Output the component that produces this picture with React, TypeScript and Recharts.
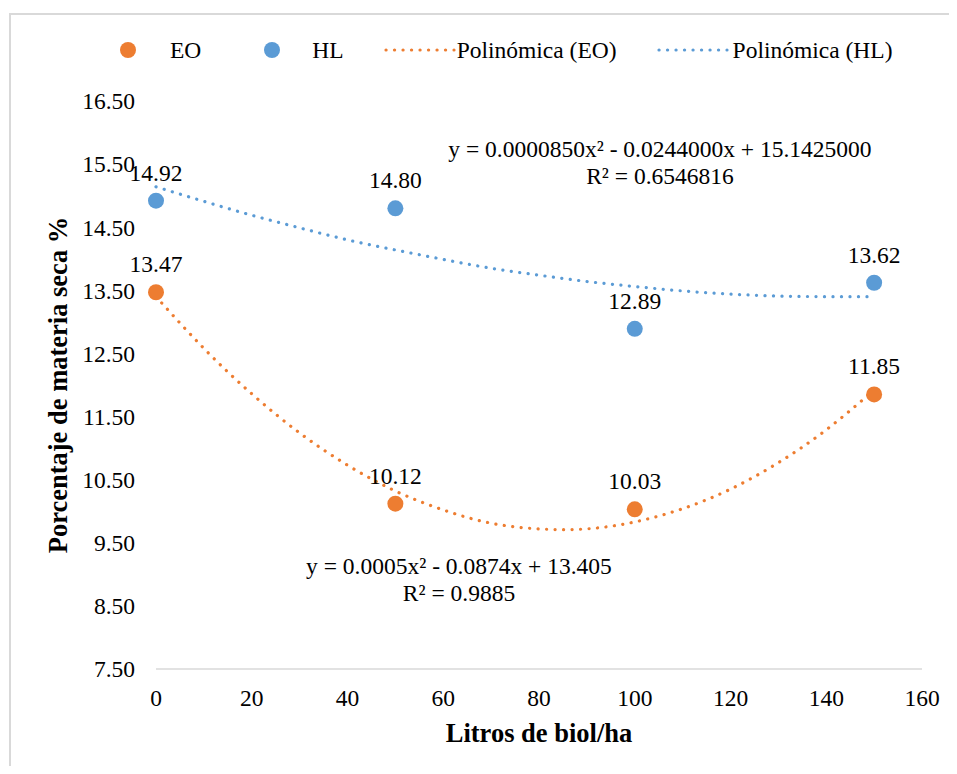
import React from 'react';
import { ComposedChart, Scatter, Line, XAxis, YAxis, ZAxis, LabelList } from 'recharts';

// biol doses (L/ha)
const doses = [0, 50, 100, 150];
const eoValues = [13.47, 10.12, 10.03, 11.85];
const hlValues = [14.92, 14.8, 12.89, 13.62];

// polynomial trendlines
const trendX = [0, 10, 20, 30, 40, 50, 60, 70, 80, 90, 100, 110, 120, 130, 140, 150];
const eoTrend = [13.4, 12.58, 11.86, 11.24, 10.73, 10.32, 10.02, 9.81, 9.72, 9.72, 9.83, 10.04, 10.35, 10.77, 11.29, 11.92];
const hlTrend = [15.14, 14.91, 14.69, 14.49, 14.3, 14.14, 13.99, 13.85, 13.74, 13.64, 13.56, 13.49, 13.44, 13.41, 13.4, 13.4];

const xTicks = [0, 20, 40, 60, 80, 100, 120, 140, 160];
const yTicks = [7.5, 8.5, 9.5, 10.5, 11.5, 12.5, 13.5, 14.5, 15.5, 16.5];

const eoEquation = ['y = 0.0005x² - 0.0874x + 13.405', 'R² = 0.9885'];
const hlEquation = ['y = 0.0000850x² - 0.0244000x + 15.1425000', 'R² = 0.6546816'];

const ORANGE = '#ED7D31';
const BLUE = '#5B9BD5';
const FONT = '"Liberation Serif", "Times New Roman", serif';
const FS = 23.5;

const eoPoints = doses.map((x, i) => ({ x, y: eoValues[i] }));
const hlPoints = doses.map((x, i) => ({ x, y: hlValues[i] }));
const eoTrendData = trendX.map((x, i) => ({ x, y: eoTrend[i] }));
const hlTrendData = trendX.map((x, i) => ({ x, y: hlTrend[i] }));

const Dot = ({ color }: { color: string }) => (
  <span style={{ display: 'inline-block', width: 16, height: 16, borderRadius: 8, background: color }} />
);

const DottedLine = ({ color }: { color: string }) => (
  <svg width={72} height={8} style={{ display: 'block' }}>
    <line x1={2} y1={4} x2={70} y2={4} stroke={color} strokeWidth={3.2} strokeDasharray="0.1 8.4" strokeLinecap="round" />
  </svg>
);

const ChartLegend = () => (
  <div
    style={{
      position: 'absolute', top: 28, left: 112, display: 'flex', alignItems: 'center',
      fontFamily: FONT, fontSize: FS, lineHeight: '28px', color: '#000', whiteSpace: 'nowrap',
    }}
  >
    <Dot color={ORANGE} />
    <span style={{ marginLeft: 34 }}>EO</span>
    <span style={{ marginLeft: 63, display: 'flex' }}><Dot color={BLUE} /></span>
    <span style={{ marginLeft: 32 }}>HL</span>
    <span style={{ marginLeft: 40 }}><DottedLine color={ORANGE} /></span>
    <span style={{ marginLeft: 1 }}>Polinómica (EO)</span>
    <span style={{ marginLeft: 40 }}><DottedLine color={BLUE} /></span>
    <span style={{ marginLeft: 4 }}>Polinómica (HL)</span>
  </div>
);

const Equation = ({ lines, cx, cy }: { lines: string[]; cx: number; cy: number }) => (
  <div
    style={{
      position: 'absolute', left: cx, top: cy, transform: 'translate(-50%, -50%)',
      fontFamily: FONT, fontSize: FS, lineHeight: '27px', textAlign: 'center', whiteSpace: 'nowrap', color: '#000',
    }}
  >
    {lines.map((l) => (
      <div key={l}>{l}</div>
    ))}
  </div>
);

const tickStyle = { fontSize: FS, fill: '#000', fontFamily: FONT };
const labelStyle = { fontSize: FS, fill: '#000', fontFamily: FONT };

export default function App() {
  return (
    <div className="biol-chart" style={{ position: 'relative', width: 941, height: 758, fontFamily: FONT, background: '#fff' }}>
      <style>{`.biol-chart svg text { font-family: "Liberation Serif", "Times New Roman", serif !important; }`}</style>
      <div
        style={{
          position: 'absolute', left: 1, top: 5, right: -20, bottom: -20,
          borderLeft: '2px solid #d9d9d9', borderTop: '2px solid #d9d9d9',
        }}
      />
      <ComposedChart width={941} height={758} margin={{ top: 93, right: 27, bottom: 37, left: 48 }}>
        <XAxis
          type="number"
          dataKey="x"
          domain={[0, 160]}
          ticks={xTicks}
          height={60}
          tickLine={false}
          tickSize={6}
          tickMargin={14}
          tick={tickStyle}
          axisLine={{ stroke: '#d9d9d9', strokeWidth: 1.5 }}
          allowDuplicatedCategory={false}
          label={{
            value: 'Litros de biol/ha', position: 'bottom', offset: -6,
            style: { fontSize: 26.5, fontWeight: 'bold', fill: '#000', fontFamily: FONT },
          }}
        />
        <YAxis
          type="number"
          dataKey="y"
          domain={[7.5, 16.5]}
          ticks={yTicks}
          width={100}
          axisLine={false}
          tickLine={false}
          tickSize={6}
          tickMargin={15}
          tick={tickStyle}
          tickFormatter={(v: number) => v.toFixed(2)}
          label={{
            value: 'Porcentaje de materia seca %', angle: -90, position: 'insideLeft', offset: 2,
            style: { textAnchor: 'middle', fontSize: 26.5, fontWeight: 'bold', fill: '#000', fontFamily: FONT },
          }}
        />
        <ZAxis range={[201, 201]} />
        <Line
          data={hlTrendData}
          dataKey="y"
          type="natural"
          stroke={BLUE}
          strokeWidth={3.2}
          strokeDasharray="0.1 8.4"
          strokeLinecap="round"
          dot={false}
          activeDot={false}
          isAnimationActive={false}
        />
        <Line
          data={eoTrendData}
          dataKey="y"
          type="natural"
          stroke={ORANGE}
          strokeWidth={3.2}
          strokeDasharray="0.1 8.4"
          strokeLinecap="round"
          dot={false}
          activeDot={false}
          isAnimationActive={false}
        />
        <Scatter data={hlPoints} dataKey="y" fill={BLUE} shape="circle" isAnimationActive={false}>
          <LabelList dataKey="y" position="top" offset={12} formatter={(v: number) => v.toFixed(2)} style={labelStyle} />
        </Scatter>
        <Scatter data={eoPoints} dataKey="y" fill={ORANGE} shape="circle" isAnimationActive={false}>
          <LabelList dataKey="y" position="top" offset={12} formatter={(v: number) => v.toFixed(2)} style={labelStyle} />
        </Scatter>
      </ComposedChart>
      <ChartLegend />
      <Equation lines={hlEquation} cx={652} cy={155} />
      <Equation lines={eoEquation} cx={451} cy={572} />
    </div>
  );
}
